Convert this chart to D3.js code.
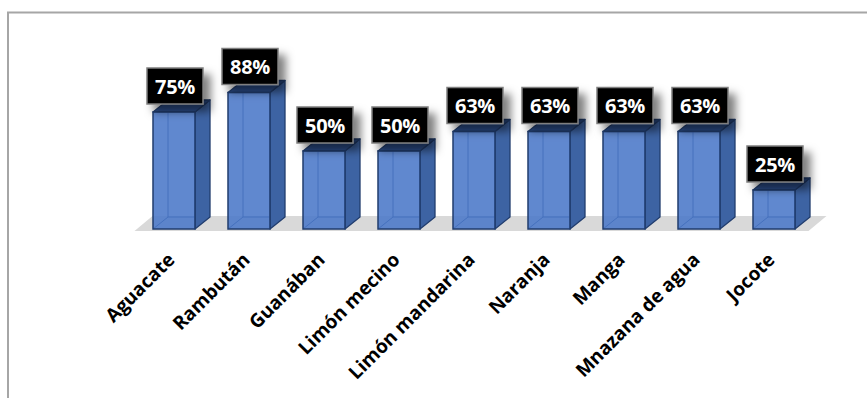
<!DOCTYPE html>
<html><head><meta charset="utf-8">
<script src="https://cdn.jsdelivr.net/npm/d3@7"></script>
<style>body{margin:0;background:#fff}svg{display:block}</style>
</head><body>
<svg id="c" width="867" height="398"></svg>
<script>
const categories = ["Aguacate","Rambután","Guanában","Limón mecino","Limón mandarina","Naranja","Manga","Mnazana de agua","Jocote"];
const values = [0.75,0.875,0.5,0.5,0.625,0.625,0.625,0.625,0.25];

const svg = d3.select("#c");
const W = 867, H = 398;
const DX = 15, DY = -12;
const base = 229;

const x = d3.scaleBand().domain(categories).range([136.5, 811.5]).paddingInner(0.44).paddingOuter(0.22);
const y = d3.scaleLinear().domain([0, 1]).range([base, 73]);
const fmt = d3.format(".0%");

const defs = svg.append("defs");
const f = defs.append("filter").attr("id","sh").attr("x","-50%").attr("y","-50%").attr("width","220%").attr("height","220%");
f.append("feDropShadow").attr("dx",7).attr("dy",7).attr("stdDeviation",4.5).attr("flood-color","#000").attr("flood-opacity",0.5);

// border
svg.append("rect").attr("x",8).attr("y",12.5).attr("width",W+10).attr("height",H+10)
  .attr("fill","none").attr("stroke","#a6a6a6").attr("stroke-width",2);

// floor
const x0 = x.range()[0]-2, x1 = x.range()[1]-3;
svg.append("path")
  .attr("d", `M${x0},${base+2} L${x1},${base+2} L${x1+18},${base+2-15} L${x0+18},${base+2-15} Z`)
  .attr("fill","#d9d9d9");

const g = svg.append("g");
const bars = g.selectAll("g.bar").data(categories).join("g").attr("class","bar");
bars.each(function(c, i){
  const s = d3.select(this);
  const bx = x(c), bw = x.bandwidth(), ty = y(values[i]);
  const edge = "#213d6e";
  s.append("path").attr("d", `M${bx+DX},${base+DY} L${bx+DX},${ty+DY} M${bx},${base} L${bx+DX},${base+DY} L${bx+bw+DX},${base+DY}`)
    .attr("stroke", edge).attr("stroke-width",1).attr("fill","none");
  s.append("path").attr("d", `M${bx+bw},${base} L${bx+bw+DX},${base+DY} L${bx+bw+DX},${ty+DY} L${bx+bw},${ty} Z`)
    .attr("fill","#3d63a3").attr("stroke",edge).attr("stroke-width",1.3).attr("stroke-linejoin","round");
  s.append("path").attr("d", `M${bx},${ty} L${bx+DX},${ty+DY} L${bx+bw+DX},${ty+DY} L${bx+bw},${ty} Z`)
    .attr("fill","#2d4f8d").attr("stroke",edge).attr("stroke-width",1.3).attr("stroke-linejoin","round");
  s.append("rect").attr("x",bx).attr("y",ty).attr("width",bw).attr("height",base-ty)
    .attr("fill","#4a78c8").attr("fill-opacity",0.88).attr("stroke",edge).attr("stroke-width",1.5);
});

// value labels
const labs = svg.append("g").selectAll("g").data(categories).join("g")
  .attr("transform",(c,i)=>`translate(${x(c)+x.bandwidth()/2+1},${y(values[i])-8})`);
labs.append("rect").attr("x",-28).attr("y",-36).attr("width",56).attr("height",36)
  .attr("fill","#000").attr("stroke","#7f7f7f").attr("stroke-width",1.5).attr("filter","url(#sh)");
labs.append("text").attr("x",0).attr("y",-10.5).attr("text-anchor","middle")
  .attr("font-family","Open Sans").attr("font-weight","bold").attr("font-size",20).attr("fill","#fff")
  .attr("letter-spacing",-0.3)
  .text((c,i)=>fmt(values[i]));

// category labels
svg.append("g").selectAll("text").data(categories).join("text")
  .attr("transform", c => `translate(${x(c)+x.bandwidth()/2+2},${base+32}) rotate(-45)`)
  .attr("text-anchor","end")
  .attr("font-family","Open Sans").attr("font-weight","bold").attr("font-size",19).attr("fill","#000")
  .text(c=>c);
</script>
</body></html>
